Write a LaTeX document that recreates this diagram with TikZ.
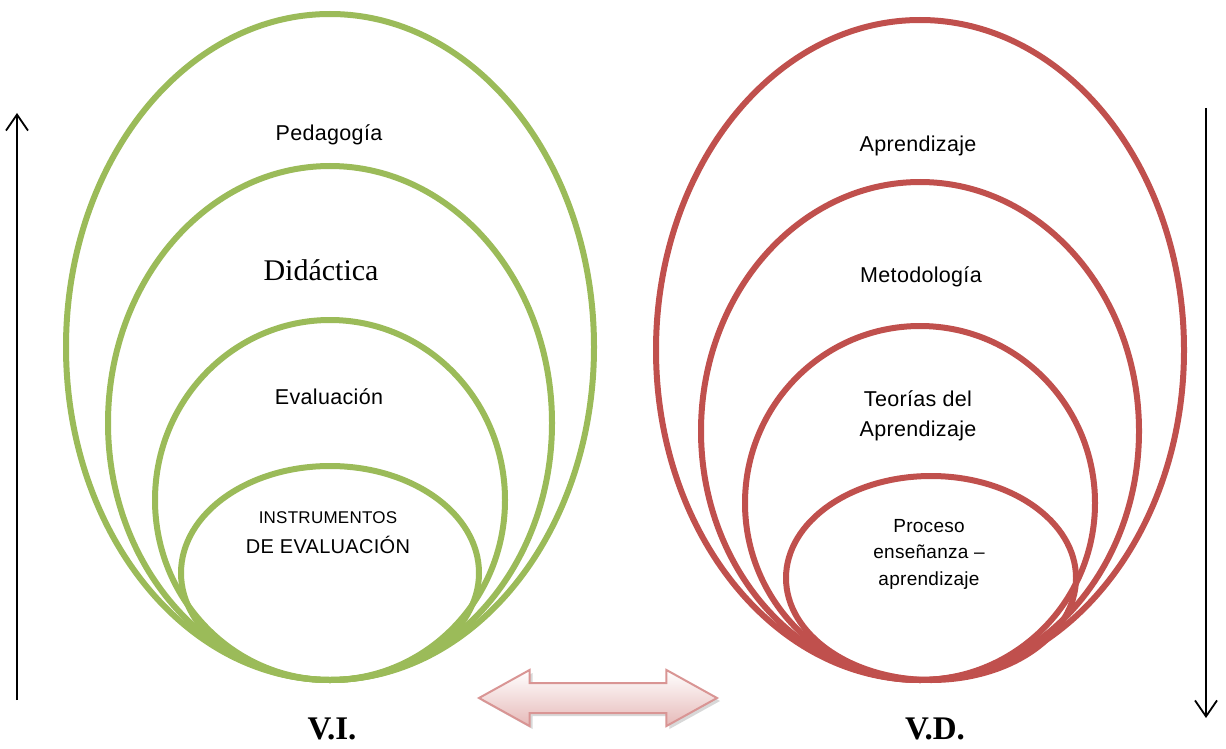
\documentclass[tikz,border=0pt]{standalone}
\usepackage{fontspec}
\setmainfont{Liberation Serif}
\newfontfamily\lblfont{Liberation Sans}[LetterSpace=1.5]
\usetikzlibrary{shapes.geometric,shapes.arrows,shadows,arrows.meta}
\definecolor{vigreen}{HTML}{9BBB59}
\definecolor{vdred}{HTML}{C0504D}
\definecolor{arrowpink}{HTML}{E6B9B8}
\definecolor{arrowedge}{HTML}{D99594}
\tikzset{
  ring/.style={ellipse, draw, line width=6pt, inner sep=0pt, outer sep=0pt},
  greenring/.style={ring, draw=vigreen},
  redring/.style={ring, draw=vdred},
  lbl/.style={font=\lblfont\fontsize{21.5}{30}\selectfont, align=center, inner sep=0pt},
  small/.style={font=\lblfont\fontsize{17}{22}\selectfont, align=center, inner sep=0pt},
  title/.style={font=\bfseries\fontsize{33}{36}\selectfont, inner sep=0pt},
  axis/.style={line width=1.8pt, -{Straight Barb[length=16pt,width=22pt,line width=1.8pt]}},
}
\begin{document}
\begin{tikzpicture}[x=1pt,y=-1pt]
\useasboundingbox (0,0) rectangle (1226,749);

% independent variable: nested ellipses
\node[greenring, minimum width=528pt, minimum height=666pt] (g1) at (330,347) {};
\node[greenring, minimum width=444pt, minimum height=514pt] (g2) at (330,423) {};
\node[greenring, minimum width=350pt, minimum height=360pt] (g3) at (330,500) {};
\node[greenring, minimum width=298pt, minimum height=214pt] (g4) at (330,573) {};

\node[lbl] (tg1) at (329,135) {Pedagogía};
\node[font=\fontsize{30}{32}\selectfont, inner sep=0pt] (tg2) at (321,270) {Didáctica};
\node[lbl] (tg3) at (329,397) {Evaluación};
\node[small] (tg4a) at (328,518) {INSTRUMENTOS};
\node[lbl, font=\lblfont\fontsize{20}{24}\selectfont] (tg4b) at (328,545) {DE EVALUACIÓN};

% dependent variable: nested ellipses
\node[redring, minimum width=528pt, minimum height=660pt] (r1) at (920,350) {};
\node[redring, minimum width=438pt, minimum height=498pt] (r2) at (920,431) {};
\node[redring, minimum width=350pt, minimum height=354pt] (r3) at (920,503) {};
\node[redring, minimum width=290pt, minimum height=204pt] (r4) at (931,578) {};

\node[lbl] (tr1) at (918,146) {Aprendizaje};
\node[lbl] (tr2) at (921,277) {Metodología};
\node[lbl] (tr3) at (918,416) {Teorías del\\Aprendizaje};
\node[lbl, font=\lblfont\fontsize{19}{26.5}\selectfont] (tr4) at (929,554) {Proceso\\enseñanza –\\aprendizaje};

% relation between the two variables
\node[double arrow, draw=arrowedge, line width=2pt,
      top color=white, bottom color=arrowpink,
      drop shadow={shadow xshift=3pt, shadow yshift=-3pt, fill=gray!60},
      minimum height=238pt, minimum width=54pt,
      double arrow head extend=13pt, double arrow tip angle=58,
      inner sep=0pt] (rel) at (598,698) {\rule{0pt}{28pt}};

\node[title] (vi) at (332,729) {V.I.};
\node[title] (vd) at (935,729) {V.D.};

% direction axes
\coordinate (upfrom) at (17,700);
\coordinate (upto) at (17,113);
\coordinate (downfrom) at (1206,108);
\coordinate (downto) at (1206,718);
\draw[axis] (upfrom) -- (upto);
\draw[axis] (downfrom) -- (downto);
\end{tikzpicture}
\end{document}
